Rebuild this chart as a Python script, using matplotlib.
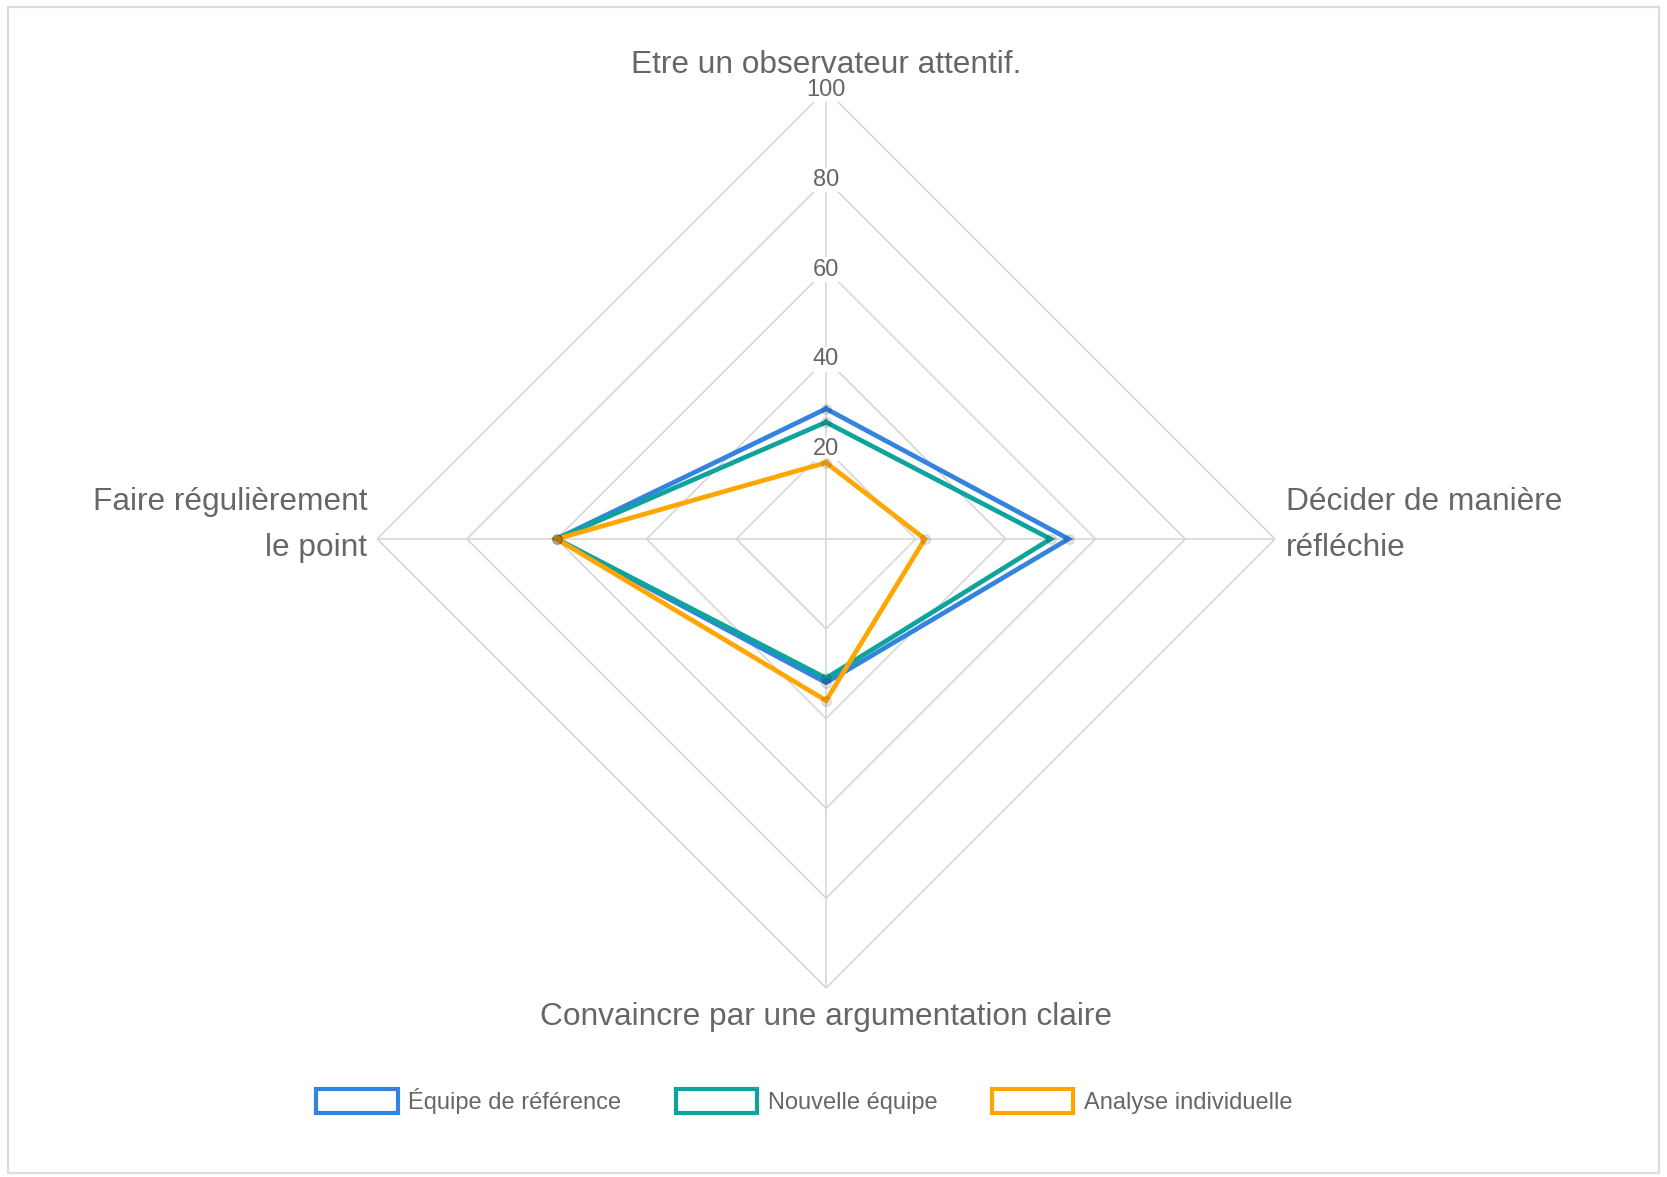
import matplotlib
matplotlib.use('Agg')
import matplotlib.pyplot as plt
from matplotlib.patches import Rectangle
import numpy as np

plt.rcParams['font.family'] = ['Liberation Sans', 'DejaVu Sans']

# axes of the radar, clockwise from the top
axis_labels = ['Etre un observateur attentif.',
               'Décider de manière\nréfléchie',
               'Convaincre par une argumentation claire',
               'Faire régulièrement\nle point']
series_names = ['Équipe de référence', 'Nouvelle équipe', 'Analyse individuelle']
reference_team = [29, 54, 32, 60]
new_team = [26, 50, 31, 60]
individual = [17, 22, 36, 60]
ring_values = [20, 40, 60, 80, 100]

colors = ['#3383DF', '#0EA39C', '#FFA600']
grey_text = '#666666'
grid_color = '#d4d4d4'

fig = plt.figure(figsize=(16.67, 11.77), dpi=100)
fig.patch.set_facecolor('white')
# light frame round the whole chart
fig.patches.append(Rectangle((0.0045, 0.0035), 0.991, 0.9905, transform=fig.transFigure,
                             fill=False, edgecolor='#dcdcdc', linewidth=1.6))

ax = fig.add_axes([0.2262, 0.1606, 0.5387, 0.7630], projection='polar')
ax.set_theta_zero_location('N')
ax.set_theta_direction(-1)
ax.set_ylim(0, 100)
ax.grid(False)
ax.set_xticks([])
ax.set_yticks([])
ax.spines['polar'].set_visible(False)
ax.patch.set_alpha(0)

angles = np.linspace(0, 2 * np.pi, len(axis_labels), endpoint=False)
closed = np.append(angles, angles[0])

# diamond rings and spokes
for r in ring_values:
    ax.plot(closed, [r] * len(closed), color=grid_color, lw=1.1, zorder=1)
for a in angles:
    ax.plot([a, a], [0, 100], color=grid_color, lw=1.1, zorder=1)

# tick labels on the vertical axis
for r in ring_values:
    ax.text(0, r, str(r), ha='center', va='center', fontsize=17, color=grey_text, zorder=2,
            bbox=dict(boxstyle='square,pad=0.05', facecolor='white', edgecolor='none'))

# data
for vals, col in zip([reference_team, new_team, individual], colors):
    v = np.append(vals, vals[0])
    ax.plot(closed, v, color=col, lw=3.4, zorder=4, solid_joinstyle='miter')
    ax.plot(angles, vals, ls='none', marker='o', ms=7, mfc=(0, 0, 0, 0.1),
            mec=(0, 0, 0, 0.1), zorder=5)

# point labels
label_fs = 22.8
ax.annotate(axis_labels[0], xy=(angles[0], 100), xytext=(0, 25), textcoords='offset pixels',
            ha='center', va='center', fontsize=label_fs, color=grey_text, annotation_clip=False)
ax.annotate(axis_labels[2], xy=(angles[2], 100), xytext=(0, -29), textcoords='offset pixels',
            ha='center', va='center', fontsize=label_fs, color=grey_text, annotation_clip=False)
ax.annotate(axis_labels[1], xy=(angles[1], 100), xytext=(11, 14), textcoords='offset pixels',
            ha='left', va='center', fontsize=label_fs, color=grey_text, linespacing=1.73,
            annotation_clip=False)
ax.annotate(axis_labels[3], xy=(angles[3], 100), xytext=(-10, 14), textcoords='offset pixels',
            ha='right', va='center', fontsize=label_fs, color=grey_text, linespacing=1.73,
            multialignment='right', annotation_clip=False)

# legend with outlined boxes
handles = [Rectangle((0, 0), 1, 1, facecolor='white', edgecolor=c, linewidth=3.0) for c in colors]
fig.legend(handles, series_names, loc='center', bbox_to_anchor=(0.4825, 0.0646), ncol=3,
           frameon=False, fontsize=17, labelcolor=grey_text, handlelength=3.45, handleheight=1.15,
           handletextpad=0.45, columnspacing=2.3)

fig.savefig('out.png', dpi=100)
